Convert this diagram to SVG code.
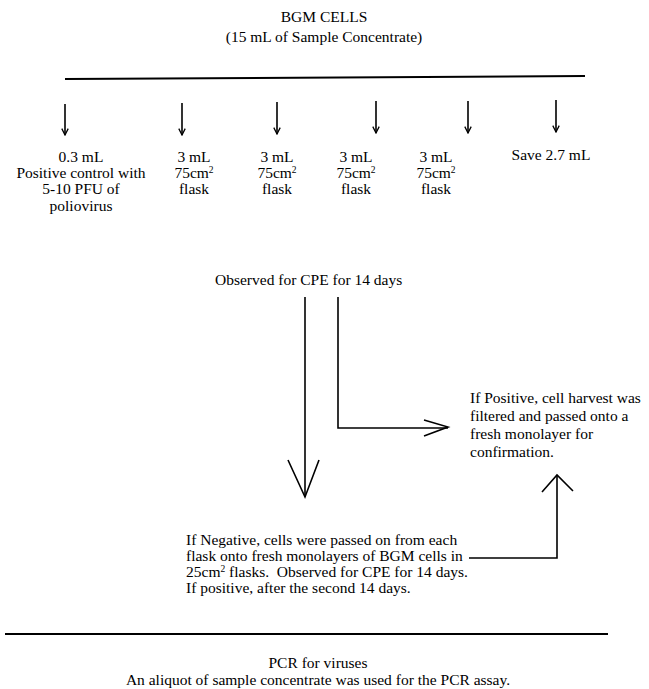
<svg xmlns="http://www.w3.org/2000/svg" width="649" height="689" viewBox="0 0 649 689">
<style>
text{font-family:"Liberation Serif","Times New Roman",serif;font-size:15.5px;fill:#000;white-space:pre}
.c{text-anchor:middle}
.ln{stroke:#000;stroke-width:1.6;fill:none}
.thick{stroke:#000;stroke-width:2;fill:none}
.sup{font-size:9.5px}
</style>
<defs>
<marker id="ah" viewBox="0 0 10 10" refX="9" refY="5" markerWidth="8" markerHeight="8" markerUnits="userSpaceOnUse" orient="auto">
<path d="M1,1 L9,5 L1,9" fill="none" stroke="#000" stroke-width="1.6"/>
</marker>
</defs>
<g id="title">
<text class="c" x="324" y="22">BGM CELLS</text>
<text class="c" x="324" y="42">(15 mL of Sample Concentrate)</text>
</g>
<g id="connectors">
<line class="thick" x1="65" y1="79" x2="585" y2="76"/>
<line class="ln" x1="65" y1="104" x2="65" y2="135" marker-end="url(#ah)"/>
<line class="ln" x1="182" y1="103" x2="182" y2="135" marker-end="url(#ah)"/>
<line class="ln" x1="277" y1="102" x2="277" y2="134" marker-end="url(#ah)"/>
<line class="ln" x1="376" y1="101" x2="376" y2="133" marker-end="url(#ah)"/>
<line class="ln" x1="468" y1="101" x2="468" y2="133" marker-end="url(#ah)"/>
<line class="ln" x1="556" y1="100" x2="556" y2="132" marker-end="url(#ah)"/>
<line class="ln" x1="305" y1="297" x2="305" y2="497"/>
<path class="ln" d="M288,460 L305,497 L319,460"/>
<path class="ln" d="M338,297 L338,428 L448,428"/>
<path class="ln" d="M424,420 L448,427 L424,436"/>
<path class="ln" d="M469,558 L557,558 L557,475"/>
<path class="ln" d="M542,492 L557,475 L573,491"/>
<line class="thick" x1="5" y1="634" x2="608" y2="634"/>
</g>
<g id="control">
<text class="c" x="81" y="162">0.3 mL</text>
<text class="c" x="81" y="178">Positive control with</text>
<text class="c" x="81" y="194">5-10 PFU of</text>
<text class="c" x="81" y="211">poliovirus</text>
</g>
<g id="flask1">
<text class="c" x="194" y="162">3 mL</text>
<text class="c" x="194" y="178">75cm<tspan class="sup" dy="-5">2</tspan></text>
<text class="c" x="194" y="194">flask</text>
</g>
<g id="flask2">
<text class="c" x="277" y="162">3 mL</text>
<text class="c" x="277" y="178">75cm<tspan class="sup" dy="-5">2</tspan></text>
<text class="c" x="277" y="194">flask</text>
</g>
<g id="flask3">
<text class="c" x="356" y="162">3 mL</text>
<text class="c" x="356" y="178">75cm<tspan class="sup" dy="-5">2</tspan></text>
<text class="c" x="356" y="194">flask</text>
</g>
<g id="flask4">
<text class="c" x="436" y="162">3 mL</text>
<text class="c" x="436" y="178">75cm<tspan class="sup" dy="-5">2</tspan></text>
<text class="c" x="436" y="194">flask</text>
</g>
<g id="save">
<text class="c" x="551" y="160">Save 2.7 mL</text>
</g>
<g id="observe">
<text x="215" y="285">Observed for CPE for 14 days</text>
</g>
<g id="positive">
<text x="470" y="403">If Positive, cell harvest was</text>
<text x="470" y="421">filtered and passed onto a</text>
<text x="470" y="439">fresh monolayer for</text>
<text x="470" y="457">confirmation.</text>
</g>
<g id="negative">
<text x="186" y="545">If Negative, cells were passed on from each</text>
<text x="186" y="561">flask onto fresh monolayers of BGM cells in</text>
<text x="186" y="577">25cm<tspan class="sup" dy="-5">2</tspan><tspan dy="5"> flasks.  Observed for CPE for 14 days.</tspan></text>
<text x="186" y="593">If positive, after the second 14 days.</text>
</g>
<g id="pcr">
<text class="c" x="318" y="668">PCR for viruses</text>
<text class="c" x="318" y="685">An aliquot of sample concentrate was used for the PCR assay.</text>
</g>
</svg>
